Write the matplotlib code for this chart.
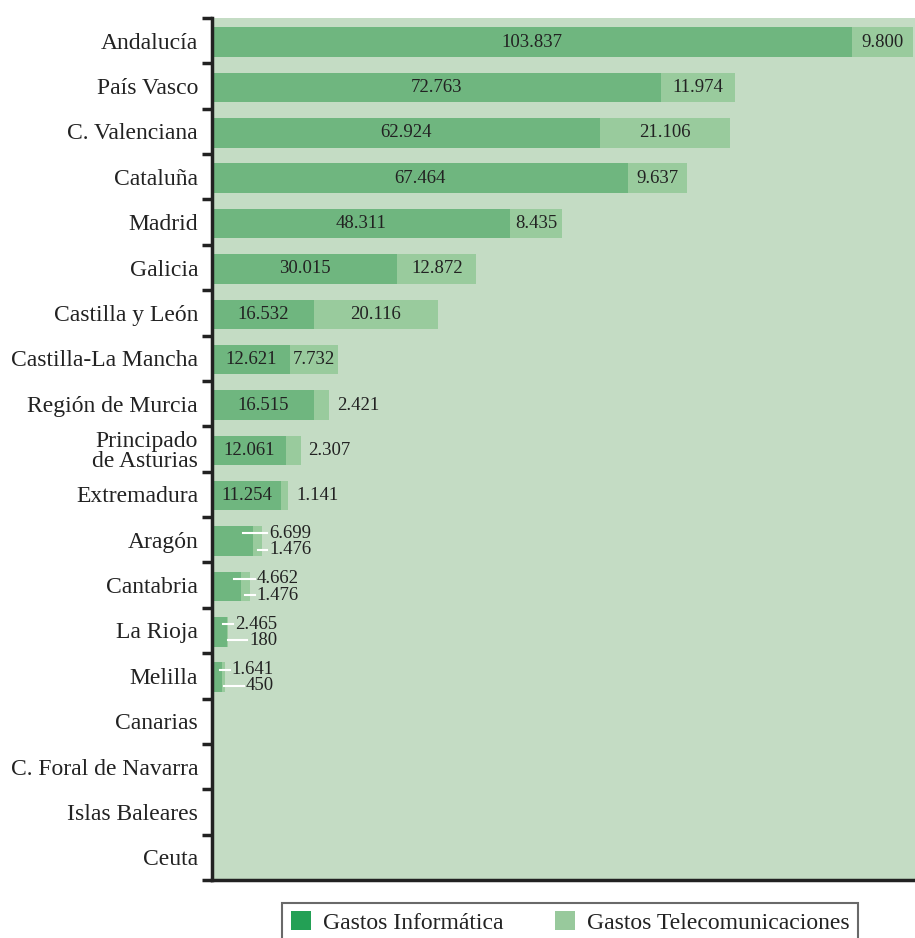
import matplotlib
matplotlib.use("Agg")
from matplotlib import pyplot as plt
from matplotlib.patches import Patch
import numpy as np

regiones = ["Andalucía", "País Vasco", "C. Valenciana", "Cataluña", "Madrid",
            "Galicia", "Castilla y León", "Castilla-La Mancha", "Región de Murcia",
            "Principado\nde Asturias", "Extremadura", "Aragón", "Cantabria",
            "La Rioja", "Melilla", "Canarias", "C. Foral de Navarra",
            "Islas Baleares", "Ceuta"]
informatica = [103837, 72763, 62924, 67464, 48311, 30015, 16532, 12621, 16515,
               12061, 11254, 6699, 4662, 2465, 1641, 0, 0, 0, 0]
telecom = [9800, 11974, 21106, 9637, 8435, 12872, 20116, 7732, 2421,
           2307, 1141, 1476, 1476, 180, 450, 0, 0, 0, 0]


def fmt(v):
    return "{:,}".format(v).replace(",", ".")


plt.rcParams['font.family'] = ['Liberation Serif', 'DejaVu Serif']
TXT = '#222222'
C_INF = '#6fb67f'
C_TEL = '#99cb9d'
BG = '#c4dcc4'

fig = plt.figure(figsize=(9.15, 9.38), dpi=100)
ax = fig.add_axes([0.2317, 0.0618, 0.7683, 0.919])
ax.set_facecolor(BG)

y = np.arange(len(regiones))
h = 0.65
ax.barh(y + 0.03, informatica, h, color=C_INF, linewidth=0)
ax.barh(y + 0.03, telecom, h, left=informatica, color=C_TEL, linewidth=0)

ax.set_xlim(0, 114000)
ax.set_ylim(len(regiones) - 0.5, -0.5)

# boundary ticks between rows, names on minor ticks
ax.set_yticks(np.arange(-0.5, len(regiones) + 0.5, 1.0))
ax.set_yticklabels([])
ax.set_yticks(y, minor=True)
ax.set_yticklabels(regiones, minor=True, fontsize=17, color=TXT, linespacing=0.95)
ax.tick_params(axis='y', which='major', length=7, width=2.5, color=TXT)
ax.tick_params(axis='y', which='minor', length=0, pad=10)
ax.set_xticks([])
for s in ['top', 'right']:
    ax.spines[s].set_visible(False)
for s in ['left', 'bottom']:
    ax.spines[s].set_linewidth(2.5)
    ax.spines[s].set_color(TXT)

# units per pixel on the x axis
upp = 114000 / (0.7683 * 915)

fig.canvas.draw()
renderer = fig.canvas.get_renderer()
inv = ax.transData.inverted()

for i in range(len(regiones)):
    a, b = informatica[i], telecom[i]
    yc = i + 0.03
    if a == 0:
        continue
    if a > 10000:
        ax.text(a / 2, yc, fmt(a), ha='center', va='center', fontsize=13.5, color=TXT)
        if b > 5000:
            ax.text(a + b / 2, yc, fmt(b), ha='center', va='center', fontsize=13.5, color=TXT)
        else:
            ax.text(a + b + 8 * upp, yc, fmt(b), ha='left', va='center', fontsize=13.5, color=TXT)
    else:
        # small bars: two stacked labels with white leader lines
        xt = a + b + 7 * upp
        yu, yl = yc - 0.17, yc + 0.19
        t1 = ax.text(xt, yu, fmt(a), ha='left', va='center', fontsize=13.5, color=TXT)
        bb = t1.get_window_extent(renderer)
        xr = inv.transform((bb.x1, 0))[0]
        t2 = ax.text(xr, yl, fmt(b), ha='right', va='center', fontsize=13.5, color=TXT)
        bb2 = t2.get_window_extent(renderer)
        xl2 = inv.transform((bb2.x0, 0))[0]
        ax.plot([0.75 * a, xt - 2 * upp], [yu, yu], color='white', lw=1.5)
        ax.plot([a + b / 2, xl2 - 2 * upp], [yl, yl], color='white', lw=1.5)

handles = [Patch(facecolor='#23a055', edgecolor='none', label='Gastos Informática'),
           Patch(facecolor='#98c99c', edgecolor='none', label='Gastos Telecomunicaciones')]
leg = fig.legend(handles=handles, loc='upper center', bbox_to_anchor=(0.623, 0.0373),
                 ncol=2, fontsize=17, frameon=True, fancybox=False,
                 handlelength=0.85, handleheight=0.85, handletextpad=0.5,
                 columnspacing=2.2, borderpad=0.35, borderaxespad=0)
leg.get_frame().set_edgecolor('#444444')
leg.get_frame().set_linewidth(1.5)
for t in leg.get_texts():
    t.set_color(TXT)

plt.savefig("out.png", dpi=100)
